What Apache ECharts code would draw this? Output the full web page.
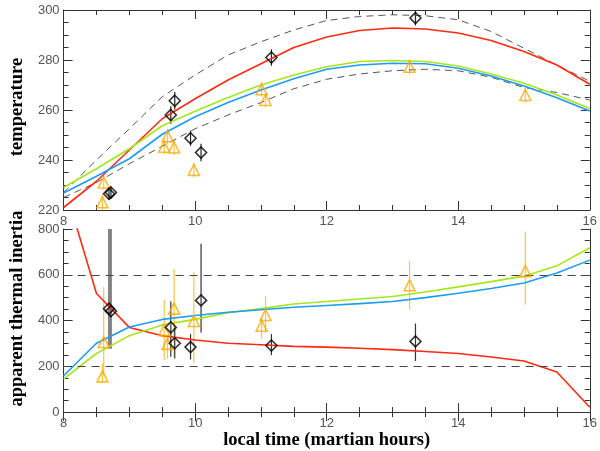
<!DOCTYPE html>
<html>
<head>
    <meta charset="utf-8">
    <title>ECharts</title>
    <script src="https://cdn.jsdelivr.net/npm/echarts@6/dist/echarts.min.js"></script>
</head>
<body style="margin:0;background:#fff;">
<div id="main" style="width: 600px;height:451px;"></div>
<script type="text/javascript">
    // model curves, every half hour from 8 to 16
    var hours = [8, 8.5, 9, 9.5, 10, 10.5, 11, 11.5, 12, 12.5, 13, 13.5, 14, 14.5, 15, 15.5, 16];
    var tempRed = [221, 231.5, 244, 256.5, 264.5, 272, 278.5, 285, 289.2, 291.8, 292.8, 292.4, 290.8, 287.8, 283.4, 278, 270.3];
    var tempGreen = [229, 236.5, 244.5, 253.7, 259.5, 265, 270, 274, 277.3, 279.4, 279.8, 279.4, 277.6, 274.4, 270.7, 266, 260.6];
    var tempBlue = [226.8, 233.5, 240.5, 250.3, 257.3, 263, 268, 272.5, 276.3, 278, 278.7, 278.5, 276.7, 273.6, 269.6, 264.9, 259.6];
    var tempDashHi = [227, 240, 252.5, 265.3, 274, 282, 287.3, 292, 295.8, 297.4, 298.1, 297.7, 296.1, 291.4, 284.7, 278, 271.5];
    var tempDashLo = [225, 231, 238.5, 245.5, 252.5, 258, 263, 268.5, 272.3, 274.4, 275.7, 276.3, 275.7, 273.1, 269, 267, 264];

    var tiRed = [1000, 518, 370, 334, 315, 301, 294, 287, 284, 279, 273, 265, 256, 241, 223, 175, 21];
    var tiGreen = [145, 256, 334, 381, 405, 434, 452, 472, 483, 494, 505, 525, 547, 570, 594, 639, 718];
    var tiBlue = [159, 301, 372, 405, 422, 436, 447, 458, 466, 474, 483, 500, 519, 540, 564, 608, 664];

    // observations: diamonds (black) and triangles (orange)
    var diaHour = [8.69, 8.72, 9.63, 9.69, 9.93, 10.09, 11.16, 13.35];
    var diaTemp = [226.5, 227, 258, 263.7, 248.7, 243, 281, 296.8];
    var diaTempErr = [2.5, 2.5, 3.5, 3.5, 3, 3.5, 3.3, 3];
    var diaTI = [452, 441, 370, 301, 284, 488, 291, 309];
    var diaTILow = [277, 277, 242, 234, 230, 348, 249, 223];
    var diaTIHigh = [820, 820, 483, 370, 341, 736, 341, 387];

    var triHour = [8.59, 8.61, 9.53, 9.58, 9.68, 9.98, 11.01, 11.07, 13.26, 15.02];
    var triTemp = [223.1, 231, 245.3, 249.5, 245, 236, 268.3, 264, 277.3, 266];
    var triTempErr = [3, 3, 3, 3, 3, 3, 3, 3, 3, 3];
    var triTI = [156, 306, 358, 298, 452, 398, 377, 424, 554, 616];
    var triTILow = [128, 164, 228, 234, 242, 213, 320, 348, 448, 469];
    var triTIHigh = [213, 547, 490, 327, 625, 611, 412, 505, 661, 789];

    var tiRefLevels = [200, 600];

    function pairs(xs, ys) {
        return xs.map(function (x, i) { return [x, ys[i]]; });
    }
    function bars(xs, lo, hi) {
        return xs.map(function (x, i) { return [x, lo[i], hi[i]]; });
    }
    function symBars(xs, ys, err) {
        return xs.map(function (x, i) { return [x, ys[i] - err[i], ys[i] + err[i]]; });
    }
    function errRender(params, api) {
        var p1 = api.coord([api.value(0), api.value(1)]);
        var p2 = api.coord([api.value(0), api.value(2)]);
        return {
            type: 'line',
            shape: {x1: p1[0], y1: p1[1], x2: p2[0], y2: p2[1]},
            style: {stroke: api.visual('color'), lineWidth: 1.2}
        };
    }

    var frame = '#333';
    var labelStyle = {color: '#555', fontSize: 13, fontFamily: 'Liberation Sans'};
    var nameStyle = {color: '#000', fontSize: 18.5, fontWeight: 'bold', fontFamily: 'Liberation Serif'};

    function xAx(grid, pos, labels, name) {
        return {
            type: 'value', gridIndex: grid, position: pos, min: 8, max: 16, interval: 2,
            axisLine: {show: true, lineStyle: {color: frame}},
            axisTick: {show: true, inside: true, length: 9, lineStyle: {color: frame}},
            minorTick: {show: true, splitNumber: 4, length: 5, lineStyle: {color: frame}},
            axisLabel: Object.assign({show: labels, margin: 5}, labelStyle),
            splitLine: {show: false},
            name: name || '', nameLocation: 'middle', nameGap: 16, nameTextStyle: nameStyle
        };
    }
    function yAx(grid, pos, min, max, step, labels, name, shift) {
        var ns = Object.assign({}, nameStyle);
        if (shift) ns.padding = [0, 0, 0, shift];
        return {
            type: 'value', gridIndex: grid, position: pos, min: min, max: max, interval: step,
            axisLine: {show: true, lineStyle: {color: frame}},
            axisTick: {show: true, inside: true, length: 9, lineStyle: {color: frame}},
            minorTick: {show: true, splitNumber: 4, length: 5, lineStyle: {color: frame}},
            axisLabel: Object.assign({show: labels, margin: 4}, labelStyle),
            splitLine: {show: false},
            name: name || '', nameLocation: 'middle', nameRotate: 90, nameGap: 27, nameTextStyle: ns
        };
    }

    var red = '#ff2a10', green = '#a6e61a', blue = '#1c9cf2', orange = '#ffaa00', orangeBar = '#ffc244';

    function line(xi, yi, data, color, dashed) {
        return {
            type: 'line', xAxisIndex: xi, yAxisIndex: yi, data: data, showSymbol: false, smooth: false,
            clip: true, silent: true,
            lineStyle: {color: color, width: dashed ? 1 : 1.6, type: dashed ? [7, 5] : 'solid'}
        };
    }
    function errs(xi, yi, data, color) {
        return {type: 'custom', xAxisIndex: xi, yAxisIndex: yi, data: data, renderItem: errRender,
            itemStyle: {color: color}, clip: true, silent: true};
    }
    function marks(xi, yi, data, symbol, color) {
        return {type: 'scatter', xAxisIndex: xi, yAxisIndex: yi, data: data, symbol: symbol, symbolSize: 11,
            itemStyle: {color: 'rgba(0,0,0,0)', borderColor: color, borderWidth: 1.6}, silent: true, z: 5};
    }

    var myChart = echarts.init(document.getElementById('main'));
    var option = {
        animation: false,
        backgroundColor: '#fff',
        grid: [
            {left: 55, right: 9, top: 10, height: 200},
            {left: 55, right: 9, top: 229, height: 188}
        ],
        xAxis: [
            xAx(0, 'bottom', true),
            xAx(0, 'top', false),
            xAx(1, 'bottom', true, 'local time (martian hours)'),
            xAx(1, 'top', false)
        ],
        yAxis: [
            yAx(0, 'left', 220, 300, 20, true, 'temperature', 6),
            yAx(0, 'right', 220, 300, 20, false),
            yAx(1, 'left', 0, 800, 200, true, 'apparent thermal inertia', 24),
            yAx(1, 'right', 0, 800, 200, false)
        ],
        series: [
            line(0, 0, pairs(hours, tempDashHi), '#555', true),
            line(0, 0, pairs(hours, tempDashLo), '#555', true),
            line(0, 0, pairs(hours, tempRed), red),
            line(0, 0, pairs(hours, tempGreen), green),
            line(0, 0, pairs(hours, tempBlue), blue),
            errs(0, 0, symBars(triHour, triTemp, triTempErr), orangeBar),
            errs(0, 0, symBars(diaHour, diaTemp, diaTempErr), '#222'),
            marks(0, 0, pairs(triHour, triTemp), 'triangle', orange),
            marks(0, 0, pairs(diaHour, diaTemp), 'diamond', '#000'),

            {
                type: 'line', xAxisIndex: 2, yAxisIndex: 2, data: [], silent: true,
                markLine: {
                    symbol: 'none', silent: true, label: {show: false},
                    lineStyle: {color: '#444', width: 1, type: [8, 6]},
                    data: tiRefLevels.map(function (v) { return {yAxis: v}; })
                }
            },
            line(2, 2, pairs(hours, tiRed), red),
            line(2, 2, pairs(hours, tiGreen), green),
            line(2, 2, pairs(hours, tiBlue), blue),
            errs(2, 2, bars(triHour, triTILow, triTIHigh), orangeBar),
            errs(2, 2, bars(diaHour, diaTILow, diaTIHigh), '#333'),
            marks(2, 2, pairs(triHour, triTI), 'triangle', orange),
            marks(2, 2, pairs(diaHour, diaTI), 'diamond', '#000')
        ]
    };
    myChart.setOption(option);
</script>
</body>
</html>
